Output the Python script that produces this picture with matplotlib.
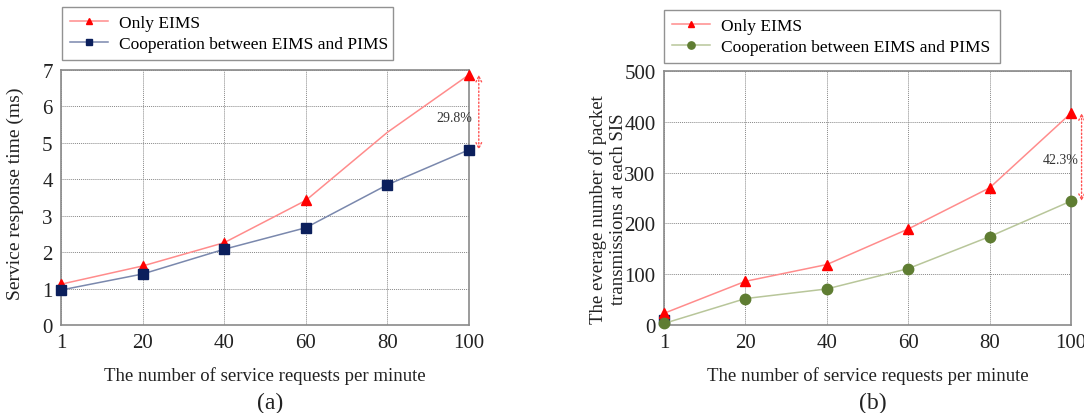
import matplotlib
matplotlib.use("Agg")
import matplotlib.pyplot as plt
import numpy as np

plt.rcParams['font.family'] = ['Liberation Serif', 'DejaVu Serif']

x_labels = ["1", "20", "40", "60", "80", "100"]
a_only = [1.12, 1.62, 2.26, 3.42, 5.29, 6.87]
a_coop = [0.96, 1.40, 2.08, 2.67, 3.85, 4.81]
b_only = [23, 86, 119, 189, 270, 417]
b_coop = [3, 52, 71, 111, 174, 244]
b_stray = [10]

xs = np.arange(len(x_labels))

fig = plt.figure(figsize=(10.84, 4.14), dpi=100)
W, H = 1084, 414
axa = fig.add_axes([61 / W, 1 - 326 / H, (469 - 61) / W, (326 - 71) / H])
axb = fig.add_axes([664 / W, 1 - 326 / H, (1071 - 664) / W, (326 - 72) / H])

red_line = '#ff8c8c'
red_mk = '#ff0000'
navy = '#0b1f5c'
navy_line = '#7a88ad'
green = '#5f7d32'
green_line = '#b8c69a'

def style(ax, ymax, ystep):
    ax.set_xlim(0, 5)
    ax.set_ylim(0, ymax)
    ax.set_xticks(xs)
    ax.set_xticklabels(x_labels)
    ax.set_yticks(np.arange(0, ymax + ystep / 2, ystep))
    ax.grid(True, color='#888888', linestyle=(0, (1, 1)), linewidth=0.7)
    for s in ax.spines.values():
        s.set_color('#8a8a8a')
        s.set_linewidth(1.2)
    ax.tick_params(length=0, labelsize=15, pad=6, colors='#222222')
    ax.set_xlabel("The number of service requests per minute", fontsize=13.5, labelpad=10, color='#222222')

def legend(ax, box):
    x0, y0, x1, y1 = box
    leg = ax.legend(loc='lower left', bbox_to_anchor=(x0 / W, 1 - y1 / H, (x1 - x0) / W, (y1 - y0) / H),
                    bbox_transform=fig.transFigure, mode='expand', fontsize=12.5, frameon=True,
                    fancybox=False, edgecolor='#777777', handlelength=2.2, borderaxespad=0,
                    handletextpad=0.65, labelspacing=0.3, borderpad=0.45, markerscale=0.7)
    leg.get_frame().set_linewidth(1.0)

# (a)
axa.plot(xs, a_only, color=red_line, lw=1.1, marker='^', ms=7, mfc=red_mk, mec=red_mk,
         markevery=[0, 1, 2, 3, 5], label='Only EIMS', clip_on=False, zorder=3)
axa.plot(xs, a_coop, color=navy_line, lw=1.1, marker='s', ms=6.5, mfc=navy, mec=navy,
         label='Cooperation between EIMS and PIMS', clip_on=False, zorder=3)
style(axa, 7, 1)
axa.set_ylabel("Service response time (ms)", fontsize=14, color='#222222')
axa.yaxis.set_label_coords(-0.09, 0.52)
axa.annotate('', xy=(5.12, a_coop[5]), xytext=(5.12, a_only[5]),
             arrowprops=dict(arrowstyle='<->', color='#ff5050', linestyle=':', lw=1.0,
                             shrinkA=0, shrinkB=0), annotation_clip=False)
axa.text(4.82, 5.7, "29.8%", fontsize=10, ha='center', va='center', color='#333333')
legend(axa, (62, 7, 393, 61))

# (b)
axb.plot(xs, b_only, color=red_line, lw=1.1, marker='^', ms=7, mfc=red_mk, mec=red_mk,
         label='Only EIMS', clip_on=False, zorder=3)
axb.plot(xs, b_coop, color=green_line, lw=1.1, marker='o', ms=7.5, mfc=green, mec=green,
         label='Cooperation between EIMS and PIMS', clip_on=False, zorder=3)
axb.plot(xs[:1], b_stray, linestyle='none', marker='s', ms=6.5, mfc=navy, mec=navy,
         clip_on=False, zorder=2)
style(axb, 500, 100)
axb.set_ylabel("The everage number of packet\ntransmissions at each SIS", fontsize=13.5,
               linespacing=1.25, color='#222222')
axb.yaxis.set_label_coords(-0.09, 0.46)
axb.annotate('', xy=(5.13, b_coop[5]), xytext=(5.13, b_only[5]),
             arrowprops=dict(arrowstyle='<->', color='#ff5050', linestyle=':', lw=1.0,
                             shrinkA=0, shrinkB=0), annotation_clip=False)
axb.text(4.87, 326, "42.3%", fontsize=10, ha='center', va='center', color='#333333')
legend(axb, (664, 9, 1000, 64))

fig.text(270 / W, 1 - 403 / H, "(a)", fontsize=17, ha='center', va='center', color='#222222')
fig.text(873 / W, 1 - 403 / H, "(b)", fontsize=17, ha='center', va='center', color='#222222')

fig.savefig("out.png", dpi=100)
